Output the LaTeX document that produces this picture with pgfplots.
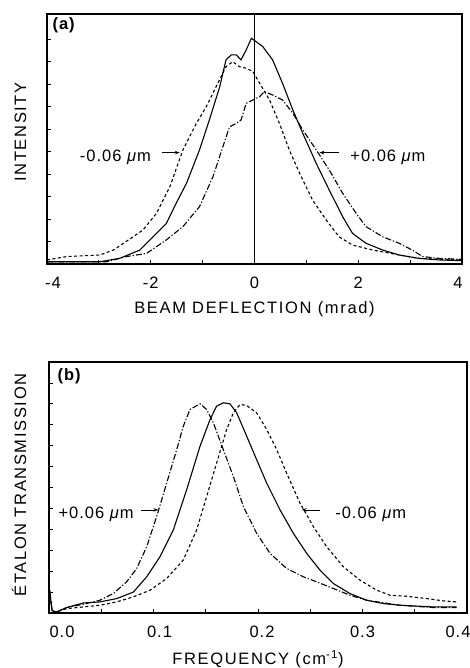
\documentclass[border=0pt]{standalone}
\usepackage{fontspec}
\setmainfont{Liberation Sans}[LetterSpace=6]
\usepackage{pgfplots}
\pgfplotsset{compat=1.18}
\usetikzlibrary{arrows.meta}

\newcommand{\lblfont}{\fontsize{16.5}{19}\selectfont\addfontfeature{LetterSpace=10}}
\newcommand{\tckfont}{\fontsize{16.5}{19}\selectfont}
% tick label moved sideways by half of #1
\newcommand{\tl}[2]{\makebox[0pt]{\hspace*{#1}#2}}

\tikzset{arr/.style={-{Stealth[length=5pt,width=3.5pt]}, line width=0.7pt}}
\pgfplotsset{
  panel/.style={
    scale only axis, clip=true,
    axis line style={line width=1.2pt},
    tick style={line width=0.8pt, black},
    tick align=inside, major tick length=4pt,
    xtick pos=bottom, ytick pos=left,
    yticklabels={},
    tick label style={font=\tckfont},
    xticklabel style={inner sep=0pt, yshift=-13pt},
    xlabel style={font=\lblfont, inner sep=0pt, anchor=north,
      at={(axis description cs:0.5,0)}, yshift=-37pt},
    ylabel style={font=\lblfont, inner sep=0pt, anchor=base},
  },
  solidc/.style={black, line width=1.1pt},
  dashc/.style={black, line width=1.1pt, dash pattern=on 3pt off 2.5pt},
  dotdashc/.style={black, line width=1.1pt, dash pattern=on 6pt off 2pt on 1.2pt off 2pt},
}

\begin{document}
\begin{tikzpicture}
\path[use as bounding box] (0pt,0pt) rectangle (469pt,668pt);

% (a) beam deflection
\begin{axis}[panel,
  at={(47pt,404pt)}, anchor=south west,
  width=415pt, height=250pt,
  xmin=-4, xmax=4, ymin=0, ymax=11.11,
  xtick={-4,...,4}, xticklabels={\tl{12pt}{-4},,-2,,0,,2,,\tl{-8pt}{4}},
  ytick={1,...,10},
  xlabel={BEAM DEFLECTION (mrad)},
  ylabel={INTENSITY},
  ylabel style={at={(axis description cs:-0.0506,0.528)}},
]
\addplot[black, line width=1.2pt] coordinates {(0,0) (0,11.11)};
% solid: 0 um
\addplot[solidc] coordinates {
(-4,0.1) (-3.5,0.1) (-2.98,0.1) (-2.6,0.25) (-2.21,0.62) (-1.89,1.36) (-1.70,1.8)
(-1.51,2.7) (-1.31,3.59) (-1.06,5.07) (-0.87,6.4) (-0.67,7.88) (-0.55,9.07)
(-0.45,9.29) (-0.35,9.29) (-0.26,9.07) (-0.16,9.51) (-0.06,10.03) (0.03,9.88)
(0.16,9.66) (0.35,9.07) (0.54,8.03) (0.74,6.84) (0.93,5.81) (1.19,4.47) (1.44,3.29)
(1.70,2.1) (1.89,1.36) (2.15,0.92) (2.47,0.62) (2.79,0.4) (3.17,0.25) (3.56,0.18) (3.98,0.15)};
% dashed: -0.06 um
\addplot[dashc] coordinates {
(-4,0.18) (-3.62,0.33) (-2.98,0.4) (-2.72,0.62) (-2.34,1.21) (-2.15,1.51) (-1.89,2.25)
(-1.63,3.44) (-1.38,5.07) (-1.12,6.25) (-0.93,6.99) (-0.74,7.88) (-0.55,8.77)
(-0.42,8.99) (-0.29,8.77) (-0.16,8.70) (-0.03,8.55) (0.10,8.03) (0.29,7.29) (0.48,6.25)
(0.67,5.07) (0.87,4.03) (1.12,2.84) (1.38,1.96) (1.63,1.21) (1.89,0.84) (2.28,0.62)
(2.79,0.4) (3.17,0.25) (3.98,0.18)};
% dash-dot: +0.06 um
\addplot[dotdashc] coordinates {
(-4,0.1) (-2.85,0.1) (-2.47,0.33) (-2.08,0.47) (-1.70,1.07) (-1.38,1.66) (-1.06,2.55)
(-0.80,3.88) (-0.61,5.21) (-0.48,6.1) (-0.35,6.25) (-0.26,6.4) (-0.16,7.14) (-0.03,7.29)
(0.10,7.44) (0.19,7.66) (0.35,7.51) (0.54,7.29) (0.74,6.7) (0.93,5.96) (1.19,5.07)
(1.44,4.18) (1.70,3.14) (1.96,2.25) (2.15,1.66) (2.47,1.21) (2.79,0.92) (3.04,0.62)
(3.24,0.33) (3.56,0.25) (3.98,0.21)};
\node[anchor=north west, inner sep=0pt, font=\tckfont\bfseries] at (rel axis cs:0.013,0.985) {(a)};
\node[anchor=base west, inner sep=0pt, font=\tckfont] at (axis cs:-3.37,4.55) {-0.06\ \textit{μ}m};
\draw[arr] (axis cs:-1.78,4.95) -- (axis cs:-1.44,4.95);
\node[anchor=base east, inner sep=0pt, font=\tckfont] at (axis cs:3.30,4.55) {+0.06\ \textit{μ}m};
\draw[arr] (axis cs:1.62,4.95) -- (axis cs:1.25,4.95);
\end{axis}

% (b) etalon transmission
\begin{axis}[panel,
  at={(49pt,55pt)}, anchor=south west,
  width=418pt, height=251pt,
  xmin=0, xmax=0.4, ymin=0, ymax=12,
  xtick={0,0.05,...,0.4},
  xticklabels={\tl{26pt}{0.0},,\tl{12pt}{0.1},,\tl{8pt}{0.2},,0.3,,\tl{-18pt}{0.4}},
  ytick={1,...,11},
  xlabel={FREQUENCY (cm\textsuperscript{-1})},
  ylabel={ÉTALON TRANSMISSION},
  ylabel style={at={(axis description cs:-0.055,0.51)}},
]
% solid: 0 um
\addplot[solidc] coordinates {
(0.0005,1.1) (0.003,0.1) (0.0073,0.05) (0.0169,0.26) (0.0329,0.48) (0.0488,0.53)
(0.0648,0.69) (0.0807,1.0) (0.0935,1.73) (0.1062,2.69) (0.119,3.97) (0.1317,5.89)
(0.1445,7.97) (0.1541,9.25) (0.1604,9.89) (0.1668,10.05) (0.1732,10.0) (0.1796,9.57)
(0.1892,8.45) (0.1987,7.33) (0.2083,6.21) (0.2211,4.93) (0.2338,3.81) (0.2466,2.85)
(0.2593,2.05) (0.2721,1.41) (0.288,0.93) (0.304,0.61) (0.3199,0.45) (0.3359,0.37)
(0.3678,0.29) (0.3901,0.29)};
% dash-dot: +0.06 um
\addplot[dotdashc] coordinates {
(0.0005,1.1) (0.003,0.1) (0.0073,0.05) (0.0169,0.26) (0.0329,0.42) (0.0488,0.61)
(0.0616,0.93) (0.0743,1.49) (0.0839,2.13) (0.0935,3.17) (0.103,4.61) (0.1126,6.21)
(0.1222,7.81) (0.1285,8.93) (0.1349,9.73) (0.1445,10.0) (0.1509,9.73) (0.1573,9.09)
(0.1668,7.81) (0.1764,6.53) (0.186,5.09) (0.1987,3.81) (0.2115,2.85) (0.2274,2.13)
(0.2434,1.73) (0.2561,1.49) (0.2721,1.17) (0.288,0.85) (0.304,0.61) (0.3359,0.37)
(0.3678,0.26) (0.3901,0.26)};
% dashed: -0.06 um
\addplot[dashc] coordinates {
(0.0005,1.1) (0.003,0.1) (0.0073,0.05) (0.0169,0.21) (0.0488,0.37) (0.0648,0.53)
(0.0807,0.77) (0.0967,1.09) (0.1126,1.65) (0.1285,2.53) (0.1413,3.97) (0.1509,5.57)
(0.1604,7.17) (0.17,8.77) (0.1764,9.57) (0.1828,9.97) (0.1892,9.92) (0.1987,9.57)
(0.2083,8.77) (0.2179,7.81) (0.2274,6.69) (0.2402,5.25) (0.253,4.13) (0.2657,3.17)
(0.2817,2.21) (0.2976,1.57) (0.3136,1.09) (0.3263,0.85) (0.3423,0.80) (0.3614,0.69)
(0.3774,0.58) (0.3901,0.53)};
\node[anchor=north west, inner sep=0pt, font=\tckfont\bfseries] at (rel axis cs:0.02,0.975) {(b)};
\node[anchor=base west, inner sep=0pt, font=\tckfont] at (axis cs:0.009,4.5) {+0.06\ \textit{μ}m};
\draw[arr] (axis cs:0.088,4.93) -- (axis cs:0.1046,4.93);
\node[anchor=base east, inner sep=0pt, font=\tckfont] at (axis cs:0.342,4.5) {-0.06\ \textit{μ}m};
\draw[arr] (axis cs:0.2595,4.93) -- (axis cs:0.2418,4.93);
\end{axis}
\end{tikzpicture}
\end{document}
